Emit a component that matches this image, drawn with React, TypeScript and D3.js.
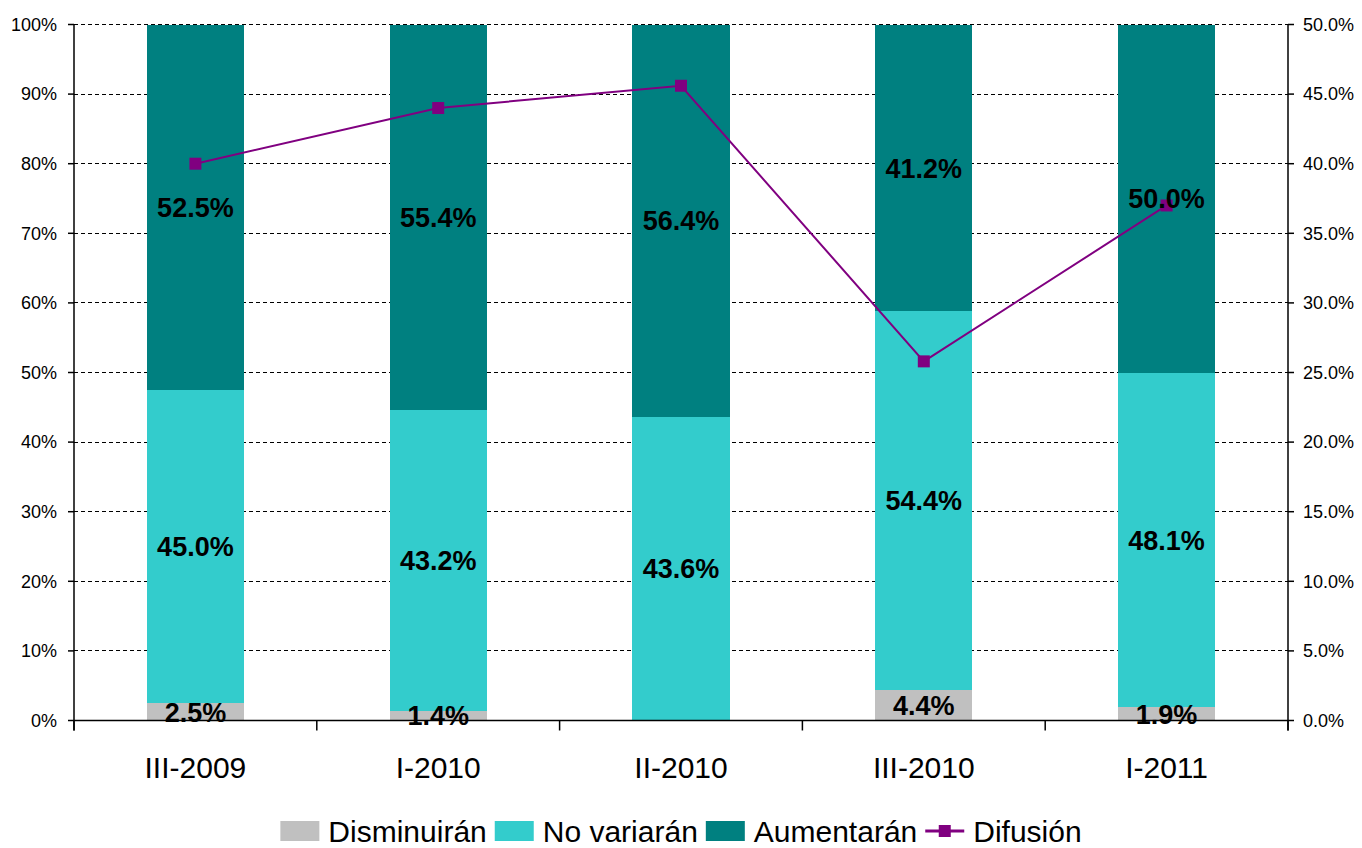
import { useMemo } from 'react'
import * as d3 from 'd3'

const categories = ['III-2009', 'I-2010', 'II-2010', 'III-2010', 'I-2011']
const disminuiran = [2.5, 1.4, 0, 4.4, 1.9]
const noVariaran = [45.0, 43.2, 43.6, 54.4, 48.1]
const aumentaran = [52.5, 55.4, 56.4, 41.2, 50.0]
const difusion = [40.0, 44.0, 45.6, 25.8, 37.0]

const leftTicks = [0, 10, 20, 30, 40, 50, 60, 70, 80, 90, 100]
const rightTicks = [0, 5, 10, 15, 20, 25, 30, 35, 40, 45, 50]

const seriesNames = ['Disminuirán', 'No variarán', 'Aumentarán']
const seriesColors = ['#C0C0C0', '#33CCCC', '#008080']
const lineName = 'Difusión'
const lineColor = '#800080'

const FONT = "'Liberation Sans', Arial, Helvetica, sans-serif"
const W = 1362
const H = 848
const margin = { top: 24.5, right: 74, bottom: 127.5, left: 74 }

function measure(text: string, font: string) {
  const c = document.createElement('canvas').getContext('2d')!
  c.font = font
  return c.measureText(text).width
}

export default function App() {
  const innerW = W - margin.left - margin.right
  const innerH = H - margin.top - margin.bottom

  const x = d3.scaleBand<string>().domain(categories).range([0, innerW]).paddingInner(0.6).paddingOuter(0.3)
  const band = innerW / categories.length
  const yL = d3.scaleLinear().domain([0, 100]).range([innerH, 0])
  const yR = d3.scaleLinear().domain([0, 50]).range([innerH, 0])

  const rows = categories.map((c, i) => ({
    cat: c,
    s0: disminuiran[i],
    s1: noVariaran[i],
    s2: aumentaran[i],
  }))
  const stacked = d3.stack<(typeof rows)[number]>().keys(['s0', 's1', 's2'])(rows)

  const cx = (c: string) => (x(c) ?? 0) + x.bandwidth() / 2
  const line = d3
    .line<number>()
    .x((_, i) => cx(categories[i]))
    .y((d) => yR(d))

  // legend layout, centred under the plot
  const legendSize = 30
  const legendFont = `${legendSize}px ${FONT}`
  const legend = useMemo(() => {
    const items = [
      ...seriesNames.map((n, i) => ({ name: n, color: seriesColors[i], kind: 'rect' })),
      { name: lineName, color: lineColor, kind: 'line' },
    ]
    const sw = 39
    const gapIn = 9
    const gapOut = 8
    const widths = items.map((it) => measure(it.name, legendFont))
    const total = widths.reduce((a, b) => a + b, 0) + items.length * (sw + gapIn) + (items.length - 1) * gapOut
    let pos = (W - total) / 2
    return items.map((it, i) => {
      const o = { ...it, x: pos, w: widths[i], sw }
      pos += sw + gapIn + widths[i] + gapOut
      return o
    })
  }, [legendFont])

  return (
    <div style={{ position: 'fixed', left: 0, top: 0, background: '#fff' }}>
      <svg width={W} height={H} style={{ display: 'block', fontFamily: FONT }}>
        <rect width={W} height={H} fill="#fff" />
        <g transform={`translate(${margin.left},${margin.top})`}>
          {/* gridlines */}
          {leftTicks
            .filter((t) => t > 0)
            .map((t) => (
              <line
                key={t}
                x1={0}
                x2={innerW}
                y1={yL(t)}
                y2={yL(t)}
                stroke="#000"
                strokeWidth={1}
                strokeDasharray="4 3"
                shapeRendering="crispEdges"
              />
            ))}

          {/* bars */}
          {stacked.map((layer, si) =>
            layer.map((d, i) =>
              d[1] - d[0] > 0 ? (
                <rect
                  key={`${si}-${i}`}
                  x={x(categories[i])}
                  width={x.bandwidth()}
                  y={yL(d[1])}
                  height={yL(d[0]) - yL(d[1])}
                  fill={seriesColors[si]}
                  shapeRendering="crispEdges"
                />
              ) : null,
            ),
          )}

          {/* left axis */}
          <line x1={0} x2={0} y1={0} y2={innerH + 10} stroke="#000" strokeWidth={1.5} />
          {leftTicks.map((t) => (
            <g key={t} transform={`translate(0,${yL(t)})`}>
              <line x1={-6} x2={0} stroke="#000" strokeWidth={1.5} />
              <text x={-17} dy="0.35em" textAnchor="end" fontSize={18} fill="#000">
                {`${t}%`}
              </text>
            </g>
          ))}

          {/* right axis */}
          <line x1={innerW} x2={innerW} y1={0} y2={innerH + 10} stroke="#000" strokeWidth={1.5} />
          {rightTicks.map((t) => (
            <g key={t} transform={`translate(${innerW},${yR(t)})`}>
              <line x1={0} x2={6} stroke="#000" strokeWidth={1.5} />
              <text x={15} dy="0.35em" textAnchor="start" fontSize={18} fill="#000">
                {`${t.toFixed(1)}%`}
              </text>
            </g>
          ))}

          {/* bottom axis */}
          <line x1={0} x2={innerW} y1={innerH} y2={innerH} stroke="#000" strokeWidth={1.5} />
          {d3.range(categories.length + 1).map((i) => (
            <line key={i} x1={i * band} x2={i * band} y1={innerH} y2={innerH + 10} stroke="#000" strokeWidth={1.5} />
          ))}
          {categories.map((c) => (
            <text key={c} x={cx(c)} y={innerH + 57.5} textAnchor="middle" fontSize={30} fill="#000">
              {c}
            </text>
          ))}

          {/* Difusión line */}
          <path d={line(difusion) ?? ''} fill="none" stroke={lineColor} strokeWidth={2} />
          {difusion.map((v, i) => (
            <rect
              key={i}
              x={cx(categories[i]) - 6}
              y={yR(v) - 6}
              width={12}
              height={12}
              fill={lineColor}
            />
          ))}

          {/* data labels */}
          {stacked.map((layer, si) =>
            layer.map((d, i) =>
              d[1] - d[0] > 0 ? (
                <text
                  key={`l${si}-${i}`}
                  x={cx(categories[i])}
                  y={(yL(d[0]) + yL(d[1])) / 2}
                  dy="0.36em"
                  textAnchor="middle"
                  fontSize={27}
                  fontWeight="bold"
                  fill="#000"
                >
                  {`${(d[1] - d[0]).toFixed(1)}%`}
                </text>
              ) : null,
            ),
          )}
        </g>

        {/* legend */}
        <g transform="translate(0,831)">
          {legend.map((it) => (
            <g key={it.name} transform={`translate(${it.x},0)`}>
              {it.kind === 'rect' ? (
                <rect x={0} y={-10} width={it.sw} height={20} fill={it.color} />
              ) : (
                <g>
                  <line x1={0} x2={it.sw} y1={0} y2={0} stroke={it.color} strokeWidth={3} />
                  <rect x={it.sw / 2 - 6} y={-6} width={12} height={12} fill={it.color} />
                </g>
              )}
              <text x={it.sw + 9} y={10.5} fontSize={legendSize} fill="#000">
                {it.name}
              </text>
            </g>
          ))}
        </g>
      </svg>
    </div>
  )
}
